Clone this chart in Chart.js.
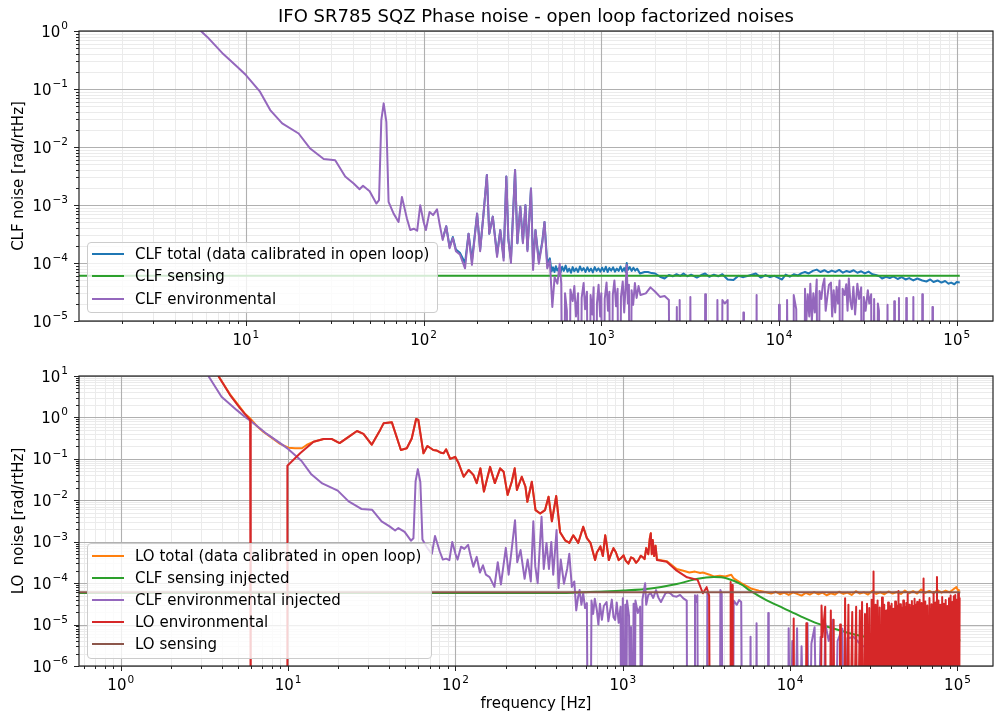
<!DOCTYPE html>
<html>
<head>
<meta charset="utf-8">
<script src="https://cdn.jsdelivr.net/npm/chart.js@4.4.1/dist/chart.umd.min.js"></script>
<style>
body { margin:0; background:#fff; font-family:"DejaVu Sans", sans-serif; }
#page { position:relative; width:995px; height:715px; overflow:hidden; background:#fff; }
#page canvas { position:absolute; left:0; }
#title { position:absolute; left:79px; width:914px; top:7px; text-align:center; font-size:18px; line-height:18px; color:#000; white-space:nowrap; }
.legend { position:absolute; background:rgba(255,255,255,0.8); border:1px solid #cccccc; border-radius:4px; box-sizing:border-box; font-size:15px; color:#000; }
.legend .row { display:flex; align-items:center; white-space:nowrap; }
.legend .swatch { width:32px; height:2px; margin-left:4px; margin-right:11px; flex:none; }
</style>
</head>
<body>
<div id="page">
  <canvas id="clfChart" width="995" height="355" style="top:0px"></canvas>
  <canvas id="loChart" width="995" height="360" style="top:355px"></canvas>
  <div id="title">IFO SR785 SQZ Phase noise - open loop factorized noises</div>
  <div class="legend" id="clfLegend" style="left:87px;top:242px;width:351px;height:71px"></div>
  <div class="legend" id="loLegend" style="left:87px;top:543px;width:345px;height:116px;padding-top:0.5px"></div>
</div>
<script>

// DATA  [frequency Hz, noise rad/rtHz]
// OFF = value below the plotted range (trace drops out of the axes)
const OFF = 1e-9;

// CLF environmental, low frequency part (same trace in both panels)
const clfEnvLow = [
  [3.34,10],[4.0,3.16],[4.94,1.5],[5.58,1.0],[6.06,0.79],[7.46,0.40],[8.96,0.24],[10.0,0.174],[12.0,0.09],[13.7,0.0433],
  [16.0,0.0255],[19.8,0.0171],[23.0,0.0094],[27.4,0.0062],[31.8,0.0059],[36.2,0.0031],[40.4,0.00235],[43.6,0.00187],[45.6,0.00214],[49.7,0.00173],
  [54.2,0.00106],[56.1,0.00121],[57.8,0.0291],[59.6,0.0565],[61.7,0.0272],[63.5,0.00113],[67.8,7.1e-4],[72.3,5.1e-4],[75.5,1.38e-3],[80.6,5.8e-4],
  [84.1,3.7e-4],[88,3.9e-4],[92,3.6e-4],[95.7,9.9e-4],[100,5.1e-4],[103,3.7e-4],[108,7.6e-4],[113,6.7e-4],[119,8.4e-4],[123,4.7e-4],
  [128,2.5e-4],[134,4.3e-4],[140,1.8e-4],[146,2.7e-4],[152,1.6e-4],[160,1.4e-4],[171,8.1e-5],[179,3.2e-4],[187,9.3e-5],[200,7.1e-4],
  [208,1.6e-4],[217,6.7e-4],[227,3.3e-3],[234,3.2e-4],[245,6.3e-4],[259,1.27e-4],[270,3.7e-4],[282,1.1e-4],[292,3.1e-3],[300,2.5e-4],
  [310,1.0e-4],[327,4.0e-3],[337,2.2e-4],[350,9.3e-4],[362,2.2e-4],[374,9.9e-4],[384,1.6e-4],[402,1.92e-3],[413,7.6e-5],[426,3.7e-4],
  [445,9.7e-5],[465,2.2e-4],[479,5.1e-4],[496,8.1e-5],[513,1.1e-4]
];

// CLF environmental above 500 Hz, top panel
const clfEnvHigh = [
  [530,1.75e-5],[546,5.7e-5],[566,4.4e-5],[583,9.7e-5],[595,4.4e-5],[610,OFF],[625,3.0e-5],[640,1.5e-5],[655,OFF],[670,3.5e-5],
  [690,2.2e-5],[705,4.0e-5],[720,1.2e-5],[740,3.0e-5],[760,OFF],[775,2.5e-5],[795,4.5e-5],[810,1.6e-5],[830,3.2e-5],[850,OFF],
  [870,2.8e-5],[890,1.3e-5],[905,3.8e-5],[925,OFF],[945,2.0e-5],[965,4.2e-5],[985,1.2e-5],[1000,3.0e-5],[1020,OFF],[1045,2.4e-5],
  [1070,4.6e-5],[1090,1.5e-5],[1110,3.2e-5],[1135,OFF],[1160,2.8e-5],[1185,5.0e-5],[1210,1.8e-5],[1235,3.6e-5],[1260,OFF],[1290,2.6e-5],
  [1320,4.8e-5],[1345,1.4e-5],[1390,9.2e-5],[1410,2.0e-5],[1430,4.2e-5],[1455,OFF],[1480,3.4e-5],[1510,1.9e-5],[1545,4.5e-5],[1580,2.5e-5],
  [1620,4.0e-5],[1660,2.8e-5],[1780,3.0e-5],[1890,3.8e-5],[2010,3.2e-5],[2140,2.6e-5],[2270,2.7e-5],[2400,2.3e-5],[2440,OFF],[2620,OFF],
  [2660,1.75e-5],[2700,OFF],[2740,OFF],[2760,2.3e-5],[2800,OFF],[3130,OFF],[3170,2.6e-5],[3210,OFF],[3800,OFF],[3840,2.9e-5],
  [3880,OFF],[4450,OFF],[4500,2.3e-5],[4600,OFF],[4750,OFF],[4800,2.3e-5],[4950,2.0e-5],[5140,2.3e-5],[5200,OFF],[6250,OFF],
  [6300,1.4e-5],[6350,OFF],[7420,OFF],[7480,2.8e-5],[7540,OFF],[9900,OFF],[10000,1.9e-5],[10100,OFF],[11000,OFF],[11100,2.3e-5],
  [11400,OFF],[12000,OFF],[12100,2.8e-5],[12500,1.6e-5],[12700,OFF],[13800,OFF],[14000,3.6e-5],[14200,8e-6],[14500,2.9e-5],[14800,1.2e-5],
  [15000,4.4e-5],[15300,1.0e-5],[15600,3.0e-5],[15900,1.4e-5],[16300,5.2e-5],[16600,OFF],[16900,3.3e-5],[17300,2.4e-5],[17600,4.0e-5],[18000,5.4e-5],
  [18300,1.5e-5],[18700,2.6e-5],[19100,4.2e-5],[19600,4.6e-5],[19900,1.2e-5],[20300,3.4e-5],[20700,1.4e-5],[21100,3.9e-5],[21500,2.0e-5],[21900,5.0e-5],
  [22300,OFF],[22800,3.6e-5],[23400,2.8e-5],[23900,4.3e-5],[24300,1.5e-5],[24700,5.4e-5],[25200,2.2e-5],[25700,1.6e-5],[26200,3.9e-5],[26800,1.3e-5],
  [27600,4.4e-5],[28200,2.4e-5],[29000,3.8e-5],[29400,OFF],[30000,2.6e-5],[30700,1.5e-5],[31600,3.4e-5],[32200,2.0e-5],[33000,2.9e-5],[33500,OFF],
  [34300,2.4e-5],[35200,OFF],[36000,2.0e-5],[36500,1.5e-5],[37000,OFF],[40400,OFF],[40800,1.9e-5],[41200,OFF],[44100,OFF],[44500,2.2e-5],
  [44900,OFF],[46900,OFF],[47300,2.5e-5],[47700,OFF],[51600,OFF],[52000,2.5e-5],[52400,OFF],[56500,OFF],[57000,2.6e-5],[57500,OFF],
  [63500,OFF],[64000,2.9e-5],[64500,OFF],[72500,OFF],[73000,1.75e-5],[73500,OFF]
];

// CLF total (data calibrated in open loop)
const clfTotal = [
  [128,2.6e-4],[134,4.3e-4],[140,1.9e-4],[146,2.8e-4],[152,1.7e-4],[160,1.5e-4],[171,1.0e-4],[179,3.2e-4],[187,1.1e-4],[200,7.1e-4],
  [208,1.7e-4],[217,6.7e-4],[227,3.3e-3],[234,3.2e-4],[245,6.3e-4],[259,1.4e-4],[270,3.7e-4],[282,1.25e-4],[292,3.1e-3],[300,2.5e-4],
  [310,1.15e-4],[327,4.0e-3],[337,2.2e-4],[350,9.3e-4],[362,2.3e-4],[374,9.9e-4],[384,1.7e-4],[402,1.92e-3],[413,9.5e-5],[426,3.7e-4],
  [445,1.1e-4],[465,2.3e-4],[479,5.1e-4],[496,1.0e-4],[513,1.2e-4],[525,7.2e-5],[535,8.4e-5],[545,7.0e-5],[555,8.8e-5],[565,7.4e-5],
  [578,8.2e-5],[590,6.9e-5],[602,8.6e-5],[615,7.3e-5],[630,9.0e-5],[645,7.1e-5],[660,8.0e-5],[675,6.8e-5],[690,8.5e-5],[705,7.2e-5],
  [722,8.1e-5],[740,7.0e-5],[758,8.7e-5],[776,7.4e-5],[795,8.2e-5],[815,7.0e-5],[835,8.4e-5],[855,7.2e-5],[875,8.0e-5],[896,6.9e-5],
  [918,8.5e-5],[940,7.3e-5],[963,8.1e-5],[987,7.1e-5],[1010,8.3e-5],[1035,7.2e-5],[1060,8.6e-5],[1085,7.0e-5],[1110,8.2e-5],[1137,7.4e-5],
  [1165,8.4e-5],[1193,7.1e-5],[1222,8.0e-5],[1252,7.3e-5],[1282,8.7e-5],[1313,7.2e-5],[1345,8.2e-5],[1370,7.0e-5],[1390,1.0e-4],[1410,7.6e-5],
  [1445,8.5e-5],[1480,7.3e-5],[1515,8.3e-5],[1552,7.4e-5],[1590,8.0e-5],[1650,6.6e-5],[1750,7.0e-5],[1830,7.0e-5],[1920,6.7e-5],[2010,6.6e-5],
  [2140,5.8e-5],[2270,5.4e-5],[2400,6.2e-5],[2520,5.9e-5],[2650,6.4e-5],[2780,6.0e-5],[2900,6.6e-5],[3050,5.9e-5],[3200,6.3e-5],[3450,5.6e-5],
  [3650,6.2e-5],[3840,6.6e-5],[4050,5.8e-5],[4300,6.3e-5],[4550,5.9e-5],[4800,6.4e-5],[5140,5.2e-5],[5540,5.1e-5],[5900,6.0e-5],[6300,5.7e-5],
  [6800,6.1e-5],[7400,6.6e-5],[7900,5.6e-5],[8400,6.2e-5],[8900,5.7e-5],[9400,6.0e-5],[10000,5.5e-5],[10400,5.2e-5],[10900,6.3e-5],[11500,5.8e-5],
  [12100,6.4e-5],[12800,6.1e-5],[13400,6.7e-5],[14000,7.0e-5],[14700,6.6e-5],[15500,7.3e-5],[16300,7.7e-5],[17100,7.0e-5],[18000,7.5e-5],[18900,6.9e-5],
  [19800,7.4e-5],[20800,7.0e-5],[21800,7.6e-5],[22900,6.8e-5],[24000,7.3e-5],[25000,7.0e-5],[26300,7.5e-5],[27600,6.8e-5],[29000,7.2e-5],[30400,6.6e-5],
  [31900,7.1e-5],[33500,6.4e-5],[35000,6.2e-5],[36700,5.9e-5],[38000,5.4e-5],[40000,5.8e-5],[42000,5.5e-5],[44000,5.9e-5],[46500,5.3e-5],[49000,5.7e-5],
  [51500,5.2e-5],[54000,5.5e-5],[57000,5.0e-5],[60000,5.4e-5],[64000,5.0e-5],[67500,4.8e-5],[71000,5.2e-5],[74000,4.7e-5],[78000,5.0e-5],[82000,4.6e-5],
  [86000,4.9e-5],[90000,4.4e-5],[93000,4.6e-5],[97000,4.3e-5],[100000,4.7e-5],[104000,4.6e-5]
];

// CLF sensing
const clfSensing = [[0.5,6.0e-5],[104000,6.0e-5]];

// CLF environmental injected, above 500 Hz (bottom panel)
const clfEnvInjHigh = [
  [527,2.2e-5],[540,4.5e-5],[552,6.8e-5],[566,3.0e-5],[580,5.7e-5],[595,2.5e-5],[610,3.3e-5],[620,OFF],[640,OFF],[650,3.8e-5],
  [665,1.8e-5],[680,4.2e-5],[700,2.2e-5],[715,1.0e-5],[730,3.2e-5],[750,1.3e-5],[770,2.8e-5],[800,3.5e-5],[820,1.2e-5],[840,2.2e-5],
  [860,4.0e-5],[880,1.5e-5],[900,1.3e-5],[920,3.4e-5],[945,1.1e-5],[970,2.7e-5],[980,OFF],[1000,4.3e-5],[1015,OFF],[1035,3.0e-5],
  [1045,OFF],[1060,3.8e-5],[1090,1.6e-5],[1110,OFF],[1120,8.7e-6],[1140,OFF],[1160,3.2e-5],[1175,OFF],[1190,3.8e-5],[1230,1.9e-5],
  [1270,2.7e-5],[1290,OFF],[1310,4.0e-5],[1360,1.0e-4],[1380,3.0e-5],[1420,5.2e-5],[1470,5.7e-5],[1520,4.4e-5],[1580,6.8e-5],[1630,4.5e-5],
  [1690,3.5e-5],[1750,4.6e-5],[1800,5.7e-5],[1860,6.0e-5],[1920,5.7e-5],[2000,4.9e-5],[2100,4.7e-5],[2200,5.2e-5],[2300,4.3e-5],[2410,3.8e-5],
  [2430,OFF],[2680,OFF],[2700,5.1e-5],[2740,3.5e-5],[2790,5.1e-5],[2820,OFF],[3180,OFF],[3200,6.0e-5],[3230,OFF],[3800,OFF],
  [3830,6.8e-5],[3900,5.5e-5],[3960,OFF],[4550,OFF],[4600,3.8e-5],[4800,3.0e-5],[4950,3.9e-5],[5100,3.5e-5],[5180,OFF],[5750,OFF],
  [5800,5.1e-6],[5850,OFF],[6250,OFF],[6300,1.07e-5],[6350,OFF],[7350,OFF],[7400,1.9e-5],[7450,OFF],[9700,OFF],[9800,8.1e-6],
  [10000,OFF],[10300,4.0e-6],[10600,OFF],[11000,8.1e-6],[11300,OFF],[11700,3.0e-6],[12200,OFF],[12700,1.07e-5],[13000,OFF],[13400,3.5e-6],
  [14000,8.6e-6],[14500,OFF],[15200,5.0e-6],[15700,OFF],[16200,1.1e-5],[17000,4.0e-6],[18000,1.3e-5],[18500,OFF],[19200,4.0e-6],[20500,8.0e-6],
  [21200,OFF],[22000,4.7e-6],[24000,5.0e-6],[27000,3.0e-6],[30000,3.0e-6],[34000,2.0e-6],[39000,1.4e-6],[40000,OFF]
];

// CLF sensing injected
const clfSensingInj = [
  [0.5,5.8e-5],[300,5.8e-5],[506,5.9e-5],[700,6.2e-5],[1010,6.6e-5],[1470,7.4e-5],[2100,9.5e-5],[2800,1.28e-4],[3500,1.4e-4],[4200,1.3e-4],
  [5100,9.3e-5],[5800,6.5e-5],[7200,3.9e-5],[9100,2.5e-5],[11500,1.6e-5],[14500,1.07e-5],[18000,8.1e-6],[23000,6.1e-6],[29000,5.0e-6],[36000,4.6e-6],
  [50000,4.3e-6],[70000,4.2e-6],[104000,4.2e-6]
];

// LO environmental
const loEnv = [
  [3.83,10],[4.5,3.47],[5.17,1.66],[5.93,0.87],[5.98,OFF],[9.85,OFF],[9.9,0.068],[11.8,0.136],[14.2,0.26],[16.3,0.30],
  [18.3,0.30],[20.3,0.24],[23.0,0.34],[25.8,0.47],[28.2,0.40],[31.6,0.22],[35.5,0.50],[37.2,0.72],[41.7,0.76],[47.2,0.164],
  [51.2,0.18],[54.8,0.31],[58.2,0.92],[60.0,0.87],[64.4,0.136],[68,0.204],[73.7,0.164],[77,0.16],[82,0.14],[85,0.136],
  [88,0.17],[93,0.10],[99.6,0.112],[104.5,0.078],[112,0.037],[120,0.054],[128,0.041],[134,0.026],[141,0.059],[148,0.0163],
  [161,0.064],[172,0.026],[185,0.059],[194,0.049],[205,0.0135],[217,0.028],[226,0.059],[233,0.0177],[249,0.037],[262,0.0213],
  [269,0.0092],[286,0.028],[301,0.0058],[321,0.0048],[343,0.0058],[360,0.0122],[377,0.0031],[400,0.0127],[422,0.0017],[452,0.00108],
  [480,9.4e-4],[506,1.43e-3],[542,9.4e-4],[580,2.3e-3],[610,1.22e-3],[641,9.4e-4],[683,3.6e-4],[700,5.5e-4],[735,7.7e-4],[760,4.5e-4],
  [785,1.43e-3],[800,9.0e-4],[825,3.6e-4],[850,5.0e-4],[880,7.0e-4],[910,5.5e-4],[945,3.6e-4],[975,4.0e-4],[1010,4.7e-4],[1040,3.5e-4],
  [1080,2.95e-4],[1120,4.2e-4],[1160,3.9e-4],[1200,3.1e-4],[1240,3.6e-4],[1280,4.6e-4],[1320,4.2e-4],[1350,3.8e-4],[1380,7.0e-4],[1420,5.0e-4],
  [1450,1.2e-3],[1470,1.6e-3],[1490,5.0e-4],[1510,1.1e-3],[1540,4.5e-4],[1570,8.0e-4],[1600,3.6e-4],[1830,3.3e-4],[2100,2.0e-4],[2420,1.38e-4],
  [2800,1.2e-4],[3010,5.7e-5],[3170,8.0e-5],[3280,5.0e-5],[3320,OFF],[4380,OFF],[4410,1.07e-4],[4440,OFF],[4480,OFF],[4510,9.0e-5],
  [4540,OFF],[10400,OFF],[10500,1.4e-5],[10600,OFF],[12400,OFF],[12500,1.07e-5],[12600,OFF],[15200,OFF],[15400,2.9e-5],[15600,5e-6],
  [16200,2.7e-5],[16400,OFF],[17200,OFF],[17500,2.2e-5],[17800,OFF],[18200,1.3e-5],[18400,OFF],[19700,OFF],[19900,1.0e-5],[20100,OFF],
  [21000,OFF],[21300,4.3e-5],[21600,OFF],[22300,3.0e-5],[22600,OFF],[23500,2.0e-5],[23800,OFF],[24800,2.7e-5],[25200,OFF],[26100,2.2e-5],
  [26500,OFF],[26900,3.5e-5],[27300,OFF],[28000,1.8e-5],[28400,OFF],[28800,3.2e-5],[29200,OFF],[29700,2.5e-5],[30100,OFF],[30700,4.0e-5],
  [31200,OFF],[31500,1.9e-4],[31800,OFF],[32400,3.0e-5],[32800,OFF],[33300,3.8e-5],[33700,OFF],[34300,2.6e-5],[34700,OFF],[35400,4.5e-5],
  [35800,OFF],[36500,3.0e-5],[36900,OFF],[37500,2.2e-5],[37900,OFF],[38500,3.4e-5],[38900,OFF],[39400,2.8e-5],[39900,OFF],[40400,3.2e-5],
  [40900,OFF],[41400,2.4e-5],[41900,OFF],[42400,3.6e-5],[42900,OFF],[43400,2.9e-5],[43900,OFF],[44400,6.5e-5],[44900,OFF],[45400,3.1e-5],
  [45900,OFF],[46400,2.6e-5],[46900,OFF],[47400,3.8e-5],[47900,OFF],[48400,2.7e-5],[48900,OFF],[49400,3.3e-5],[49900,OFF],[50400,5.5e-5],
  [50900,OFF],[51400,3.0e-5],[51900,OFF],[52400,2.5e-5],[52900,OFF],[53400,3.7e-5],[53900,OFF],[54400,2.8e-5],[54900,OFF],[55400,4.2e-5],
  [55900,OFF],[56400,3.0e-5],[56900,OFF],[57400,3.5e-5],[57900,OFF],[58400,2.6e-5],[58900,OFF],[59400,4.0e-5],[60000,OFF],[61000,3.3e-5],
  [62000,OFF],[62700,1.3e-4],[63400,OFF],[64200,3.6e-5],[65000,OFF],[66000,2.9e-5],[67000,OFF],[68000,4.4e-5],[69000,OFF],[70000,3.1e-5],
  [71000,OFF],[72000,6.0e-5],[73000,OFF],[74000,3.4e-5],[75000,OFF],[75400,1.4e-4],[76000,OFF],[77000,3.8e-5],[78000,OFF],[79000,3.0e-5],
  [80000,OFF],[81000,4.6e-5],[82000,OFF],[83000,3.2e-5],[84000,OFF],[85000,3.9e-5],[86000,OFF],[87000,2.8e-5],[88000,OFF],[89000,4.3e-5],
  [90000,OFF],[91000,5.0e-5],[92000,OFF],[93000,3.5e-5],[94000,OFF],[95000,4.8e-5],[96000,OFF],[97000,5.2e-5],[98000,OFF],[99000,4.0e-5],
  [100000,OFF],[101000,5.8e-5],[102000,OFF],[103000,4.5e-5]
];

// LO total: below 14 Hz and above 1.6 kHz (in between it lies on LO environmental)
const loTotalLow = [
  [3.83,10],[4.5,3.6],[5.17,1.75],[5.5,1.25],[5.93,0.95],[6.5,0.62],[7.1,0.45],[8.0,0.32],[8.96,0.23],[10.04,0.186],
  [11.0,0.18],[12.1,0.18],[12.9,0.216]
];
const loTotalHigh = [
  [1600,3.7e-4],[1830,3.4e-4],[2100,2.2e-4],[2300,2.0e-4],[2500,1.8e-4],[2700,1.9e-4],[2900,1.75e-4],[3010,1.8e-4],[3300,1.6e-4],[3500,1.45e-4],
  [3800,1.5e-4],[4100,1.45e-4],[4450,1.6e-4],[4600,1.3e-4],[5100,1.0e-4],[5500,8.5e-5],[5900,7.3e-5],[6500,6.6e-5],[7200,6.0e-5],[7700,5.6e-5],
  [8200,6.2e-5],[8700,5.4e-5],[9200,5.9e-5],[9800,5.2e-5],[10400,6.0e-5],[11000,5.5e-5],[11700,5.0e-5],[12400,5.8e-5],[13100,5.3e-5],[13900,6.1e-5],
  [14700,5.4e-5],[15600,5.9e-5],[16500,5.1e-5],[17500,5.7e-5],[18500,5.3e-5],[19600,6.2e-5],[20800,5.5e-5],[22000,5.9e-5],[23300,5.2e-5],[24700,6.4e-5],
  [26100,5.6e-5],[27600,6.0e-5],[29200,5.3e-5],[30900,6.5e-5],[32700,5.5e-5],[34600,6.0e-5],[36600,5.4e-5],[38700,6.3e-5],[41000,5.6e-5],[43400,6.1e-5],
  [45900,5.5e-5],[48500,6.6e-5],[51300,5.7e-5],[54300,6.4e-5],[57400,5.6e-5],[60700,7.0e-5],[64200,5.8e-5],[67900,6.5e-5],[71800,5.7e-5],[75900,6.8e-5],
  [80300,5.9e-5],[84900,6.6e-5],[89800,6.0e-5],[95000,7.2e-5],[98500,8.0e-5],[101000,6.5e-5],[103000,7.0e-5]
];

// LO sensing
const loSensing = [[0.5,6.0e-5],[104000,6.0e-5]];

// AXES
const topFreqRange = [1.15, 1.6e5];
const topNoiseRange = [1e-5, 1];
const bottomFreqRange = [0.563, 1.63e5];
const bottomNoiseRange = [1e-6, 10];
const topFreqDecades = [0, 1, 2, 3, 4, 5];
const topNoiseDecades = [-5, -4, -3, -2, -1, 0];
const bottomFreqDecades = [-1, 0, 1, 2, 3, 4, 5];
const bottomNoiseDecades = [-6, -5, -4, -3, -2, -1, 0, 1];

const FONT = "'DejaVu Sans', sans-serif";

function buildTicks(decades, range) {
  const ticks = [];
  decades.forEach(e => {
    const base = Number('1e' + e);
    for (let k = 1; k <= 9; k++) {
      const v = k * base;
      if (v >= range[0] * 0.999999 && v <= range[1] * 1.000001) {
        ticks.push({ value: v, major: k === 1 });
      }
    }
  });
  return ticks;
}

function exponentText(v) {
  return String(Math.round(Math.log10(v))).replace('-', '\u2212');
}

function logAxis(isX, range, decades, size, title) {
  return {
    type: 'logarithmic',
    position: isX ? 'bottom' : 'left',
    min: range[0],
    max: range[1],
    bounds: 'data',
    afterBuildTicks: s => { s.ticks = buildTicks(decades, range); },
    afterFit: s => {
      if (isX) s.height = size; else s.width = size;
      s.paddingLeft = 0; s.paddingRight = 0; s.paddingTop = 0; s.paddingBottom = 0;
    },
    grid: { display: false },
    border: { display: false },
    ticks: { display: false, autoSkip: false },
    title: title ? {
      display: true,
      text: title,
      color: '#000',
      font: { family: FONT, size: 15 },
      padding: isX ? { top: 0, bottom: 2 } : { top: 10, bottom: 0 }
    } : { display: false }
  };
}

// GRID (minor first, major over it)

const gridPlugin = {
  id: 'logGrid',
  beforeDatasetsDraw(chart) {
    const ctx = chart.ctx;
    const a = chart.chartArea;
    const sx = chart.scales.x;
    const sy = chart.scales.y;
    ctx.save();
    [false, true].forEach(major => {
      ctx.beginPath();
      ctx.strokeStyle = major ? '#b0b0b0' : '#ebebeb';
      ctx.lineWidth = major ? 1.1 : 1;
      sx.ticks.filter(t => t.major === major).forEach(t => {
        const px = Math.round(sx.getPixelForValue(t.value)) + 0.5;
        ctx.moveTo(px, a.top);
        ctx.lineTo(px, a.bottom);
      });
      sy.ticks.filter(t => t.major === major).forEach(t => {
        const py = Math.round(sy.getPixelForValue(t.value)) + 0.5;
        ctx.moveTo(a.left, py);
        ctx.lineTo(a.right, py);
      });
      ctx.stroke();
    });
    ctx.restore();
  }
};

// FRAME, TICK MARKS AND 10^n LABELS

const framePlugin = {
  id: 'frame',
  afterDraw(chart) {
    const ctx = chart.ctx;
    const a = chart.chartArea;
    const sx = chart.scales.x;
    const sy = chart.scales.y;
    ctx.save();
    ctx.strokeStyle = '#222';
    ctx.lineWidth = 1;
    ctx.beginPath();
    sx.ticks.forEach(t => {
      const px = Math.round(sx.getPixelForValue(t.value)) + 0.5;
      ctx.moveTo(px, a.bottom);
      ctx.lineTo(px, a.bottom + (t.major ? 5 : 3));
    });
    sy.ticks.forEach(t => {
      const py = Math.round(sy.getPixelForValue(t.value)) + 0.5;
      ctx.moveTo(a.left, py);
      ctx.lineTo(a.left - (t.major ? 5 : 3), py);
    });
    ctx.stroke();
    ctx.lineWidth = 1.2;
    ctx.strokeRect(a.left, a.top, a.right - a.left, a.bottom - a.top);

    ctx.fillStyle = '#000';
    ctx.textBaseline = 'alphabetic';
    ctx.textAlign = 'left';
    const big = '15px ' + FONT;
    const small = '10.5px ' + FONT;
    function label(v, x, baseline, alignRight) {
      const exp = exponentText(v);
      ctx.font = big;
      const wb = ctx.measureText('10').width;
      ctx.font = small;
      const we = ctx.measureText(exp).width;
      const x0 = alignRight ? x - wb - we - 1 : x - (wb + we + 1) / 2;
      ctx.font = big;
      ctx.fillText('10', x0, baseline);
      ctx.font = small;
      ctx.fillText(exp, x0 + wb + 1, baseline - 7.5);
    }
    sx.ticks.filter(t => t.major).forEach(t => {
      label(t.value, sx.getPixelForValue(t.value), a.bottom + 24, false);
    });
    sy.ticks.filter(t => t.major).forEach(t => {
      label(t.value, a.left - 11, sy.getPixelForValue(t.value) + 5.5, true);
    });
    ctx.restore();
  }
};

function series(label, color, points, order, extra) {
  return Object.assign({
    label: label,
    data: points.map(p => ({ x: p[0], y: p[1] })),
    borderColor: color,
    backgroundColor: color,
    borderWidth: 2,
    pointRadius: 0,
    tension: 0,
    borderJoinStyle: 'round',
    fill: false,
    order: order
  }, extra || {});
}

function makeLegend(id, datasets, rowHeight) {
  const box = document.getElementById(id);
  datasets.forEach(d => {
    const row = document.createElement('div');
    row.className = 'row';
    row.style.height = rowHeight + 'px';
    row.innerHTML = '<span class="swatch" style="background:' + d.borderColor + '"></span><span>' + d.label + '</span>';
    box.appendChild(row);
  });
}

function makeChart(id, datasets, xAxis, yAxis, padding) {
  return new Chart(document.getElementById(id), {
    type: 'line',
    data: { datasets: datasets },
    options: {
      responsive: false,
      animation: false,
      events: [],
      parsing: false,
      layout: { padding: padding },
      scales: { x: xAxis, y: yAxis },
      plugins: { legend: { display: false }, tooltip: { enabled: false } }
    },
    plugins: [gridPlugin, framePlugin]
  });
}

// TOP PANEL

const clfSets = [
  series('CLF total (data calibrated in open loop)', '#1f77b4', clfTotal, 3),
  series('CLF sensing', '#2ca02c', clfSensing, 2),
  series('CLF environmental', '#9467bd', clfEnvLow.concat(clfEnvHigh), 1)
];

makeChart('clfChart', clfSets,
  logAxis(true, topFreqRange, topFreqDecades, 34, null),
  logAxis(false, topNoiseRange, topNoiseDecades, 79, 'CLF noise [rad/rtHz]'),
  { left: 0, right: 2, top: 31, bottom: 0 });

makeLegend('clfLegend', clfSets, 22.3);

// BOTTOM PANEL

const loTotal = loTotalLow.concat(loEnv.filter(p => p[0] >= 14 && p[0] < 1600), loTotalHigh);

const loSets = [
  series('LO total (data calibrated in open loop)', '#ff7f0e', loTotal, 5),
  series('CLF sensing injected', '#2ca02c', clfSensingInj, 4, { cubicInterpolationMode: 'monotone' }),
  series('CLF environmental injected', '#9467bd', clfEnvLow.concat(clfEnvInjHigh), 3),
  series('LO environmental', '#d62728', loEnv, 2),
  series('LO sensing', '#8c564b', loSensing, 1)
];

makeChart('loChart', loSets,
  logAxis(true, bottomFreqRange, bottomFreqDecades, 49, 'frequency [Hz]'),
  logAxis(false, bottomNoiseRange, bottomNoiseDecades, 79, 'LO  noise [rad/rtHz]'),
  { left: 0, right: 2, top: 21, bottom: 0 });

makeLegend('loLegend', loSets, 22.15);

</script>
</body>
</html>
